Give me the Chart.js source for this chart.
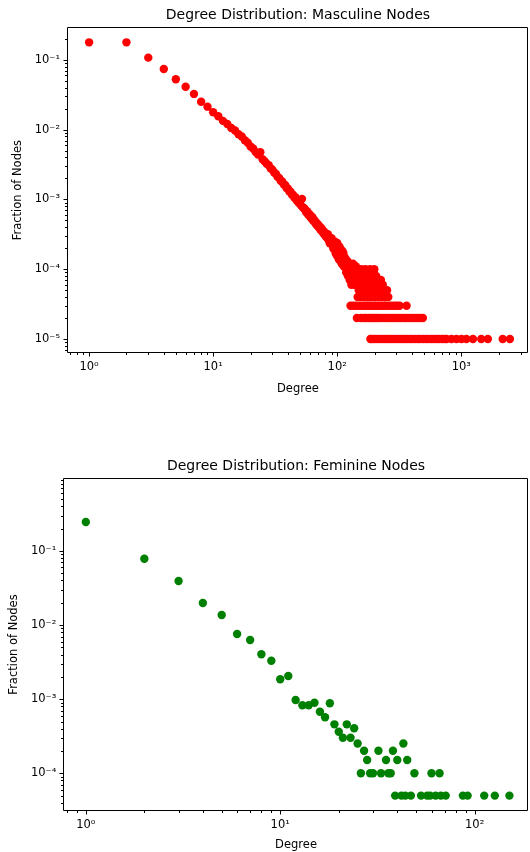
<!DOCTYPE html>
<html>
<head>
<meta charset="utf-8">
<script src="https://cdn.jsdelivr.net/npm/chart.js@4.4.1/dist/chart.umd.min.js"></script>
<style>
  html, body { margin: 0; padding: 0; background: #fff; overflow: hidden; }
  canvas { display: block; }
</style>
</head>
<body>
<canvas id="masc" width="532" height="426"></canvas>
<canvas id="fem" width="532" height="426"></canvas>
<script>
// masculine: main band, one value per degree
const mascDegree = [
  1, 2, 3, 4, 5, 6, 7, 8, 9, 10, 11, 12, 13, 14, 15, 16, 17, 18, 19, 20,
  21, 22, 23, 24, 25, 26, 27, 28, 29, 30, 31, 32, 33, 34, 35, 36, 37, 38, 39, 40,
  41, 42, 43, 44, 45, 46, 47, 48, 49, 50, 51, 52, 53, 54, 55, 56, 57, 58, 59, 60,
  61, 62, 63, 64, 65, 66, 67, 68, 69, 70, 71, 72, 73, 74, 75, 76, 77, 78, 79, 80,
  81, 82, 83, 84, 85, 86, 87, 88, 89, 90, 91, 92, 93, 94, 95, 96, 97, 98, 99, 100,
  101, 102, 103, 104, 105, 106, 107, 108, 109, 110, 111, 112, 113, 114, 115
];
const mascFraction = [
  0.179, 0.179, 0.108, 0.0743, 0.0528, 0.0414, 0.0326, 0.0252, 0.0214, 0.0178,
  0.0156, 0.0134, 0.0121, 0.0106, 0.00975, 0.00862, 0.00801, 0.00705, 0.00652, 0.00574,
  0.00538, 0.00479, 0.00441, 0.00476, 0.00377, 0.00352, 0.00325, 0.00311, 0.00281, 0.00268,
  0.00243, 0.00233, 0.00212, 0.00204, 0.00186, 0.00181, 0.00165, 0.00161, 0.00146, 0.00144,
  0.00131, 0.00129, 0.00118, 0.00117, 0.00107, 0.00108, 0.000975, 0.000978, 0.000889, 0.000893,
  0.000822, 0.00102, 0.000757, 0.000754, 0.000718, 0.000662, 0.000679, 0.000614, 0.000628, 0.000574,
  0.000591, 0.000532, 0.000556, 0.000494, 0.000512, 0.000488, 0.000447, 0.000465, 0.000421, 0.000437,
  0.000398, 0.000411, 0.000372, 0.000393, 0.000352, 0.000367, 0.000331, 0.000349, 0.000312, 0.000331,
  0.000293, 0.000318, 0.000281, 0.000318, 0.000265, 0.000288, 0.000236, 0.000274, 0.000236, 0.000279,
  0.000228, 0.000244, 0.000198, 0.000236, 0.000201, 0.000248, 0.000171, 0.000216, 0.000158, 0.000237,
  0.000168, 0.000196, 0.000139, 0.000211, 0.000157, 0.000196, 0.000128, 0.000172, 0.000119, 0.000183,
  0.000133, 0.000171, 0.000109, 0.000151, 0.000143
];
// masculine: scattered cloud at small counts
const mascCloudDegree = [
  116, 117, 118, 119, 120, 121, 122, 123, 124, 125, 126, 127, 129, 130, 131, 132, 133, 134,
  136, 137, 138, 139, 140, 141, 143, 145, 146, 147, 148, 149, 150, 152, 153, 154, 155, 157,
  158, 160, 161, 163, 164, 166, 168, 169, 171, 173, 175, 176, 178, 180, 182, 184, 186, 188,
  190, 193, 195, 197, 199, 200, 203, 206, 209, 212, 215, 218, 222, 225, 229, 233, 237, 241,
  246, 252, 258
];
const mascCloudFraction = [
  11e-5, 14e-5, 9e-5, 12e-5, 10e-5, 13e-5, 8e-5, 11e-5, 9e-5, 12e-5, 7e-5, 10e-5, 11e-5, 6e-5, 9e-5, 10e-5, 7e-5, 12e-5,
  8e-5, 10e-5, 6e-5, 9e-5, 7e-5, 11e-5, 8e-5, 9e-5, 4e-5, 7e-5, 10e-5, 5e-5, 8e-5, 6e-5, 9e-5, 4e-5, 7e-5, 10e-5,
  5e-5, 8e-5, 6e-5, 9e-5, 4e-5, 7e-5, 5e-5, 10e-5, 6e-5, 8e-5, 4e-5, 9e-5, 6e-5, 7e-5, 5e-5, 10e-5, 4e-5, 8e-5,
  6e-5, 7e-5, 5e-5, 9e-5, 10e-5, 4e-5, 6e-5, 8e-5, 5e-5, 7e-5, 4e-5, 6e-5, 5e-5, 7e-5, 4e-5, 6e-5, 5e-5, 4e-5,
  4e-5, 5e-5, 4e-5
];
// masculine: tail rows (3, 2 and 1 node)
const mascRowLevels = [3e-5, 2e-5, 1e-5];
const mascRowDegrees = [
  [128, 135, 142, 151, 159, 167, 174, 181, 189, 198, 207, 217, 227, 238, 249, 262, 275, 290, 303, 318, 362],
  [144, 156, 165, 172, 179, 187, 194, 202, 210, 220, 231, 243, 255, 268, 282, 296, 311, 327, 344, 361, 380,
   400, 421, 444, 468, 490],
  [185, 192, 201, 211, 221, 232, 244, 256, 270, 284, 298, 313, 329, 346, 364, 383, 402, 423, 445, 467, 491,
   516, 543, 571, 600, 631, 663, 697, 733, 760, 834, 914, 1003, 1099, 1242, 1448, 1637, 2156, 2465]
];

// feminine
const femDegree = [
  1, 2, 3, 4, 5, 6, 7, 8, 9, 10, 11, 12, 13, 14, 15, 16, 17, 18, 19, 20,
  21, 22, 23, 24, 25, 26, 27, 28, 29, 30, 32, 33, 35, 36, 37, 38, 39, 40, 42, 43,
  44, 45, 47, 49, 53, 57, 59, 60, 63, 66, 67, 71, 87, 92, 112, 127, 151
];
const femFraction = [
  0.246, 0.0787, 0.0394, 0.0199, 0.0137, 0.0076, 0.0063, 0.00404, 0.00331, 0.00186,
  0.00206, 0.000975, 0.000827, 0.000827, 0.000897, 0.000678, 0.00057, 0.00088, 0.000458, 0.000364,
  0.000302, 0.000458, 0.000302, 0.000405, 0.000252, 0.0001, 0.000202, 0.000151, 0.0001, 0.0001,
  0.000202, 0.0001, 0.000151, 0.0001, 0.0001, 0.000202, 0.00005, 0.000151, 0.00005, 0.000252,
  0.00005, 0.000151, 0.00005, 0.0001, 0.00005, 0.00005, 0.00005, 0.0001, 0.00005, 0.0001,
  0.00005, 0.00005, 0.00005, 0.00005, 0.00005, 0.00005, 0.00005
];

// major tick labels
const mascXTicks = [1, 10, 100, 1000];
const mascYTicks = [1e-5, 1e-4, 1e-3, 1e-2, 1e-1];
const femXTicks = [1, 10, 100];
const femYTicks = [1e-4, 1e-3, 1e-2, 1e-1];

Chart.defaults.font.family = "'DejaVu Sans', sans-serif";
Chart.defaults.color = "#000";

const SUP = { "-": "\u207B", "0": "\u2070", "1": "\u00B9", "2": "\u00B2", "3": "\u00B3",
  "4": "\u2074", "5": "\u2075", "6": "\u2076", "7": "\u2077", "8": "\u2078", "9": "\u2079" };

function powLabel(v) {
  const e = String(Math.round(Math.log10(v)));
  return "10" + e.split("").map(c => SUP[c]).join("");
}

// majors plus the 2..9 minors of each decade (and of the decade below)
function logTicks(majors, min, max) {
  const out = [];
  [majors[0] / 10, ...majors].forEach((m, i) => {
    for (let k = 1; k <= 9; k++) {
      const v = m * k;
      if (v >= min && v <= max) out.push({ value: v, major: k === 1 && i > 0 });
    }
  });
  return out;
}

const axesFrame = {
  id: "axesFrame",
  afterDraw(chart) {
    const { ctx, chartArea: a, scales: { x, y } } = chart;
    const L = Math.round(a.left) - 0.5, T = Math.round(a.top) + 0.5;
    const R = Math.round(a.right) - 0.5, B = Math.round(a.bottom) - 0.5;
    ctx.save();
    ctx.strokeStyle = "#000";
    ctx.lineWidth = 1;
    ctx.beginPath();
    ctx.moveTo(L, B); ctx.lineTo(L, T); ctx.lineTo(R, T); ctx.lineTo(R, B); ctx.closePath();
    ctx.stroke();
    ctx.beginPath();
    x.ticks.forEach(t => {
      const px = Math.round(x.getPixelForValue(t.value)) + 0.5;
      ctx.moveTo(px, B); ctx.lineTo(px, B + (t.major ? 4 : 2.5));
    });
    y.ticks.forEach(t => {
      const py = Math.round(y.getPixelForValue(t.value)) + 0.5;
      ctx.moveTo(L, py); ctx.lineTo(L - (t.major ? 4 : 2.5), py);
    });
    ctx.stroke();
    ctx.restore();
  }
};

function makeChart(id, points, color, o) {
  const tickFont = { size: 11.5 };
  return new Chart(document.getElementById(id), {
    type: "scatter",
    data: {
      datasets: [{
        data: points,
        backgroundColor: color,
        borderWidth: 0,
        pointRadius: 4.2,
        pointHoverRadius: 4.2
      }]
    },
    options: {
      responsive: false,
      animation: false,
      devicePixelRatio: 1,
      layout: { padding: 0 },
      plugins: {
        legend: { display: false },
        tooltip: { enabled: false },
        title: {
          display: true,
          text: o.title,
          fullSize: false,
          font: { size: 14, weight: "normal" },
          padding: { top: o.titleTop, bottom: 3.9 }
        }
      },
      scales: {
        x: {
          type: "logarithmic",
          min: o.xMin, max: o.xMax,
          grid: { display: false, drawTicks: true, tickLength: 4 },
          border: { display: false },
          afterBuildTicks: s => { s.ticks = logTicks(o.xTicks, o.xMin, o.xMax); },
          afterFit: s => { s.height = o.xAxisH; },
          ticks: {
            autoSkip: false, maxRotation: 0, padding: 3, font: tickFont,
            callback: (v, i, ts) => ts[i].major ? powLabel(v) : ""
          },
          title: { display: true, text: "Degree", font: { size: 11.5 }, padding: { top: 0, bottom: o.xTitlePad } }
        },
        y: {
          type: "logarithmic",
          min: o.yMin, max: o.yMax,
          grid: { display: false, drawTicks: true, tickLength: 4 },
          border: { display: false },
          afterBuildTicks: s => { s.ticks = logTicks(o.yTicks, o.yMin, o.yMax); },
          afterFit: s => { s.width = o.yAxisW; },
          ticks: {
            autoSkip: false, padding: 4, font: tickFont,
            callback: (v, i, ts) => ts[i].major ? powLabel(v) : ""
          },
          title: { display: true, text: "Fraction of Nodes", font: { size: 11.5 }, padding: { top: o.yTitlePad, bottom: 0 } }
        }
      }
    },
    plugins: [axesFrame]
  });
}

const mascPoints = mascDegree.map((d, i) => ({ x: d, y: mascFraction[i] }))
  .concat(mascCloudDegree.map((d, i) => ({ x: d, y: mascCloudFraction[i] })));
mascRowDegrees.forEach((row, r) => row.forEach(d => mascPoints.push({ x: d, y: mascRowLevels[r] })));

const femPoints = femDegree.map((d, i) => ({ x: d, y: femFraction[i] }));

makeChart("masc", mascPoints, "#ff0000", {
  title: "Degree Distribution: Masculine Nodes",
  titleTop: 6.6,
  xMin: 0.676, xMax: 3435, yMin: 6.29e-6, yMax: 0.294,
  xTicks: mascXTicks, yTicks: mascYTicks,
  xAxisH: 73, yAxisW: 68, xTitlePad: 30.4, yTitlePad: 11.6
});

makeChart("fem", femPoints, "#008000", {
  title: "Degree Distribution: Feminine Nodes",
  titleTop: 31.6,
  xMin: 0.775, xMax: 187.7, yMin: 3.13e-5, yMax: 0.957,
  xTicks: femXTicks, yTicks: femYTicks,
  xAxisH: 41.3, yAxisW: 64.3, xTitlePad: 0, yTitlePad: 7.6
});
</script>
</body>
</html>
